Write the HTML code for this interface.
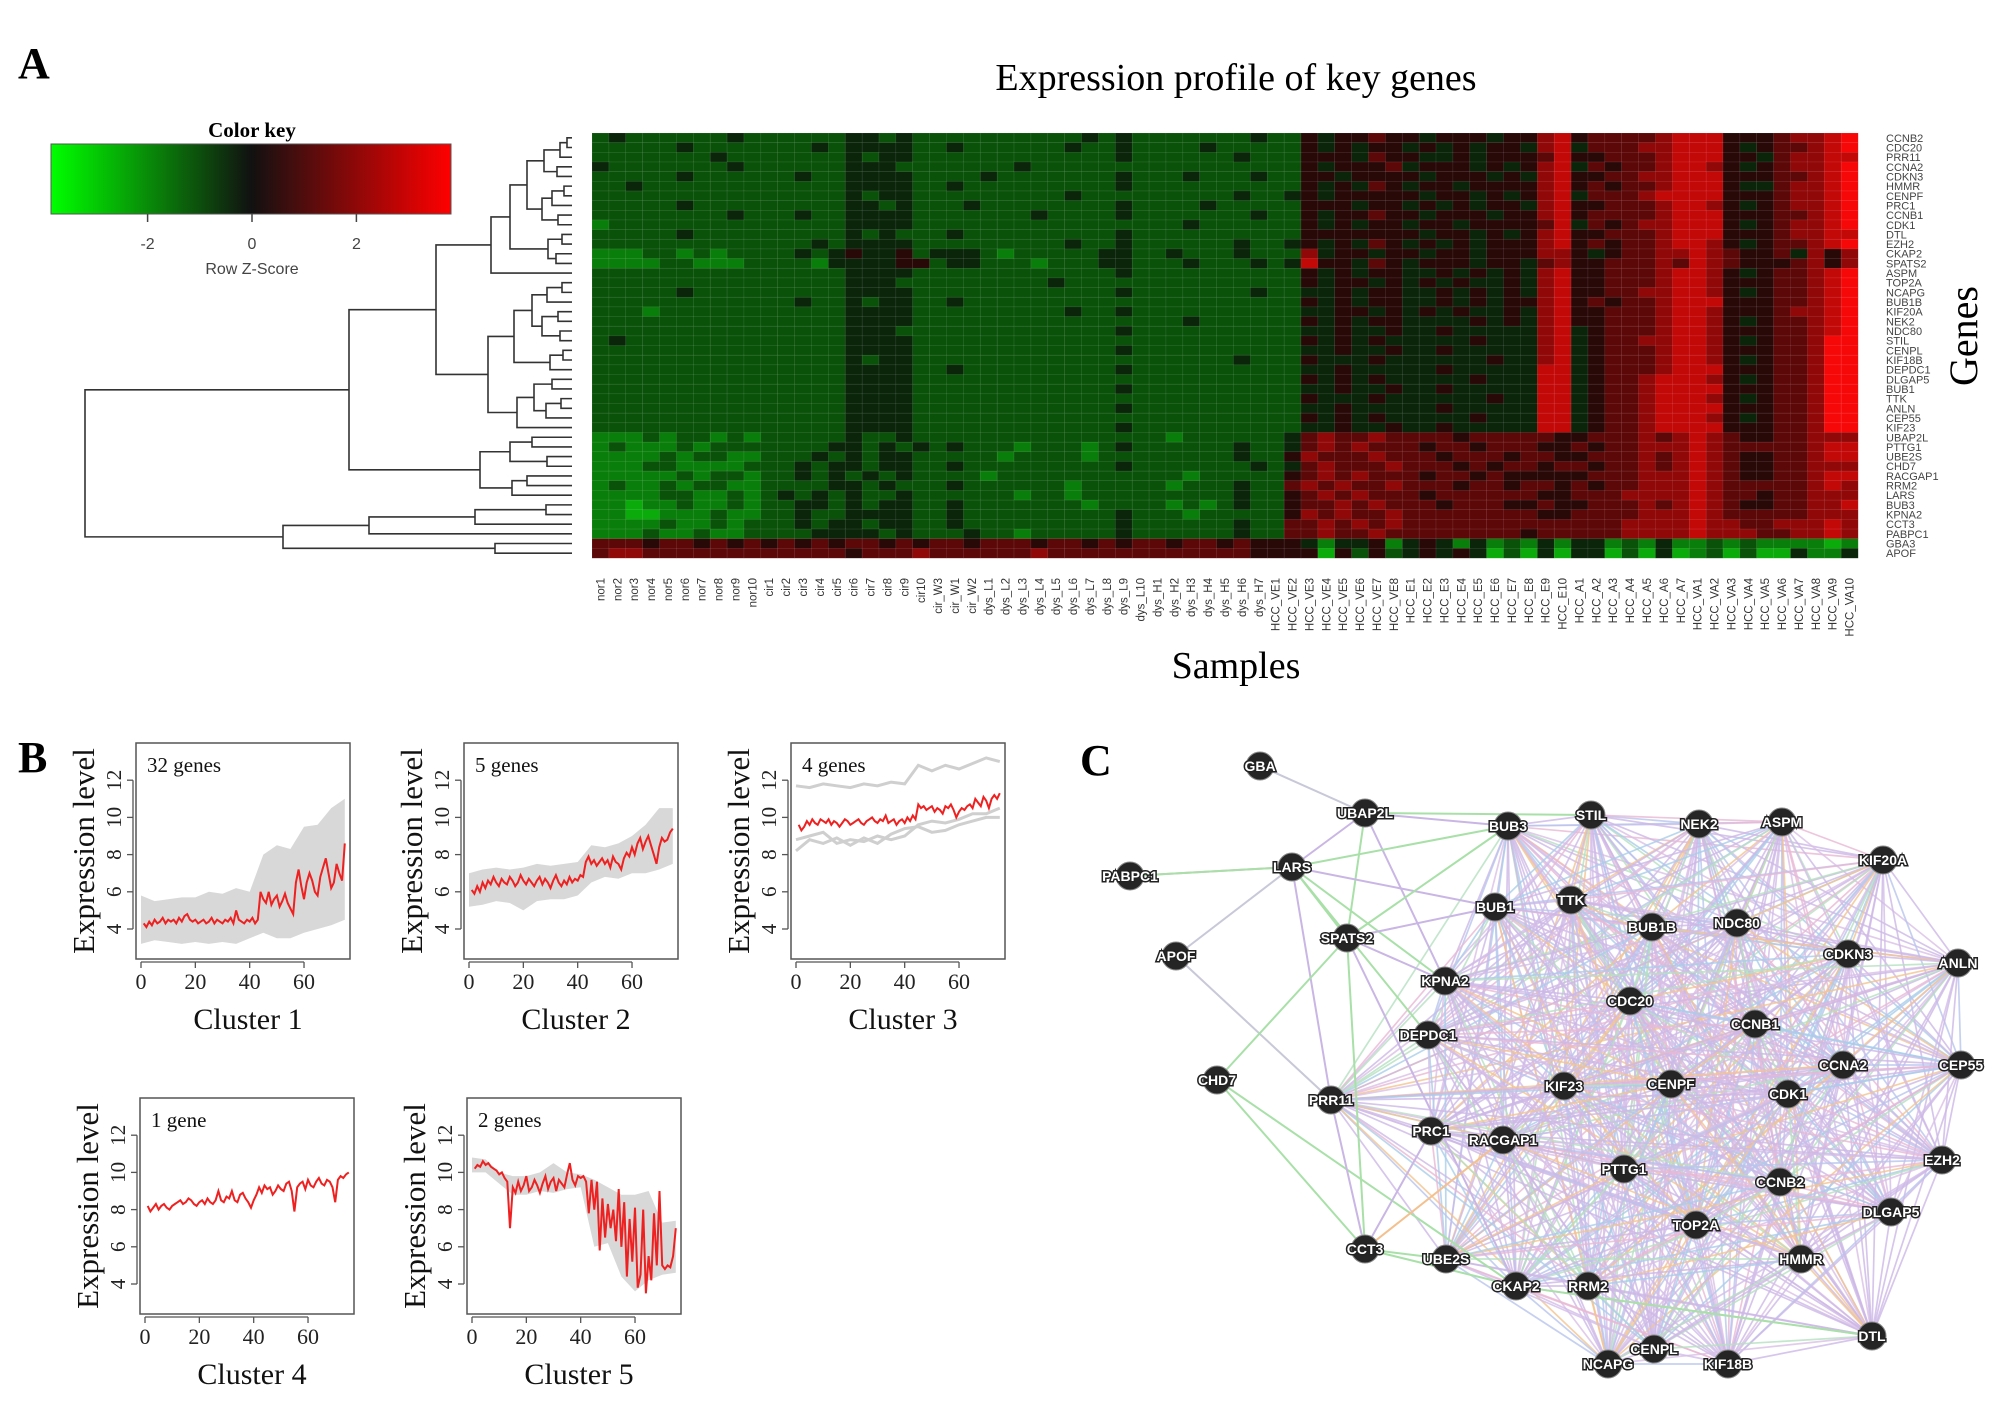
<!DOCTYPE html>
<html><head><meta charset="utf-8"><style>
html,body{margin:0;padding:0;background:#fff;}
svg{display:block;}
.serif{font-family:"Liberation Serif",serif;}
.sans{font-family:"Liberation Sans",sans-serif;}
</style></head><body>
<svg id="fig" width="2008" height="1406" viewBox="0 0 2008 1406" xmlns="http://www.w3.org/2000/svg">
<defs>
<linearGradient id="keygrad" x1="0" x2="1" y1="0" y2="0">
<stop offset="0" stop-color="#00ff00"/><stop offset="0.5" stop-color="#111"/><stop offset="1" stop-color="#ff0000"/>
</linearGradient>
</defs>
<text x="18" y="78" class="serif" font-size="44" font-weight="bold">A</text>
<text x="1236" y="90" class="serif" font-size="38" text-anchor="middle">Expression profile of key genes</text>
<text x="252" y="137" class="serif" font-size="21" font-weight="bold" text-anchor="middle">Color key</text>
<rect x="51" y="144" width="400" height="70" fill="url(#keygrad)" stroke="#555" stroke-width="1"/>
<text x="252" y="274" class="sans" font-size="16" fill="#444" text-anchor="middle">Row Z-Score</text>
<text x="1968" y="336" class="serif" font-size="40" text-anchor="middle" transform="rotate(-90 1968 336)" dominant-baseline="middle">Genes</text>
<text x="1236" y="678" class="serif" font-size="38" text-anchor="middle">Samples</text>
<text x="18" y="772" class="serif" font-size="44" font-weight="bold">B</text>
<text x="1080" y="775" class="serif" font-size="44" font-weight="bold">C</text>
<g id="heat"></g>
<g id="dendro"></g>
<g id="keyticks"></g>
<g id="clusters"></g>
<g id="net"></g>
</svg>
<script>
// ---------- Heatmap data ----------
var genes = ["CCNB2","CDC20","PRR11","CCNA2","CDKN3","HMMR","CENPF","PRC1","CCNB1","CDK1","DTL","EZH2","CKAP2","SPATS2","ASPM","TOP2A","NCAPG","BUB1B","KIF20A","NEK2","NDC80","STIL","CENPL","KIF18B","DEPDC1","DLGAP5","BUB1","TTK","ANLN","CEP55","KIF23","UBAP2L","PTTG1","UBE2S","CHD7","RACGAP1","RRM2","LARS","BUB3","KPNA2","CCT3","PABPC1","GBA3","APOF"];
var samples = ["nor1","nor2","nor3","nor4","nor5","nor6","nor7","nor8","nor9","nor10","cir1","cir2","cir3","cir4","cir5","cir6","cir7","cir8","cir9","cir10","cir_W3","cir_W1","cir_W2","dys_L1","dys_L2","dys_L3","dys_L4","dys_L5","dys_L6","dys_L7","dys_L8","dys_L9","dys_L10","dys_H1","dys_H2","dys_H3","dys_H4","dys_H5","dys_H6","dys_H7","HCC_VE1","HCC_VE2","HCC_VE3","HCC_VE4","HCC_VE5","HCC_VE6","HCC_VE7","HCC_VE8","HCC_E1","HCC_E2","HCC_E3","HCC_E4","HCC_E5","HCC_E6","HCC_E7","HCC_E8","HCC_E9","HCC_E10","HCC_A1","HCC_A2","HCC_A3","HCC_A4","HCC_A5","HCC_A6","HCC_A7","HCC_VA1","HCC_VA2","HCC_VA3","HCC_VA4","HCC_VA5","HCC_VA6","HCC_VA7","HCC_VA8","HCC_VA9","HCC_VA10"];
// z-score levels 0 (bright green, -3) .. 9 (bright red, +3)
var zrows = [
"3433333343 3333344343 333 3333334343 3333334 33545565 5455545578 5666678 8855567789",
"3333343333 3334344443 343 3333343343 3334333 33545455 4545455478 4666778 8854566789",
"3333333433 3333343443 333 3333333343 3333343 33555465 5445455568 5566678 8855467788",
"4333333343 3333344433 333 3343333333 3333333 33545556 4555454578 4656678 8754567789",
"3333343333 3343344443 333 4333333343 3343334 33554555 5455545478 5566778 8855566789",
"3343333333 3333344443 343 3333333343 3333333 33545465 4554555578 5656678 8854467789",
"3333333333 3333343443 333 3333343333 3333343 34545555 5455454578 4666788 8855567789",
"3333343333 3333344343 334 3333333343 3334333 33555455 4545455478 5566678 8754567789",
"3333333343 3343344443 333 3334333343 3333334 33545565 5455545578 5666678 8855566789",
"2333333333 3333344443 333 3333333333 3343333 33545455 4554555568 4656778 8854567789",
"3333343333 3333343433 343 3333333343 3333333 33555555 5455454578 5566678 8855567788",
"3333333333 3334344443 333 3333343343 3333343 34545465 4545455578 5656678 8754566789",
"2223323233 3343454453 444 3233333443 3433343 33745545 5455455577 5456677 8765564757",
"2222332223 3332444455 344 3332333443 3343334 34855465 4555455467 5566676 8765556757",
"3333333333 3333344443 333 3333333343 3333333 33545455 4454545478 5566678 8754566789",
"3333333333 3333344433 333 3333433333 3333333 33545545 4545445478 5566678 8755566789",
"3333343333 3333344443 333 3333333343 3333334 33445455 4454545478 5566778 8754566789",
"3333333333 3343343443 343 3333333333 3333333 33545455 4454545578 5656678 8855566789",
"3332333333 3333344443 333 3333343343 3333333 33445545 4545445478 5566678 8755567789",
"3333333333 3333344443 333 3333333333 3343333 33545455 4444545478 5566678 8754566789",
"3333333333 3333344433 333 3333333343 3333333 33445445 4454444478 4566678 8755566789",
"3433333333 3333344443 333 3333333333 3333333 33545454 4444544478 4566778 8754566799",
"3333333333 3333344443 333 3333333343 3333333 33445445 4454444478 4566678 8755566799",
"3333333333 3333343443 333 3333333333 3333343 33544454 4444454478 4566678 8754566799",
"3333333333 3333344443 343 3333333343 3333333 33445444 4454444488 4566678 8855566799",
"3333333333 3333344443 333 3333333333 3333333 33545454 4444544488 4566788 8754566799",
"3333333333 3333344443 333 3333333343 3333333 33445445 4454444488 4566788 8855566799",
"3333333333 3333344443 333 3333333333 3333333 33544454 4444454488 4566788 8754566799",
"3333333333 3333344443 333 3333333343 3333333 33445444 4454444488 4566788 8855566799",
"3333333333 3333344443 333 3333333333 3333333 33545454 4444544488 4566788 8754566799",
"3333333333 3333344443 333 3333333343 3333333 33445445 4454444488 4566788 8855566799",
"2223233232 3333343343 333 3333333333 3233333 34676676 6665666665 5666767 8765566777",
"2322232333 3333443434 343 3323332343 3333343 34676766 6566566655 6566777 8766666788",
"2222323322 3334343443 333 3233332333 3333343 35766676 6656665665 5666767 8765566788",
"2223322223 3343443443 343 3333333343 3333334 34676667 6665656656 6566767 8765566777",
"2222232332 3343434343 333 2333333333 3323333 35676766 6566565555 5666777 8765566788",
"2322323322 3333443433 343 3333323333 3233343 36767667 6665665665 6566777 8766666787",
"2222332232 3434343343 333 3323323333 3333343 35676766 6566666655 6667777 8766566777",
"2212232232 3344343443 343 3333332333 3232343 35667676 6656665565 5666767 8765566778",
"2211222322 3343344443 343 3333333343 3323333 35767667 6666666655 6666777 8766666777",
"2222322323 3343443443 343 3333333343 3333343 36676767 6666666666 6667777 8776677787",
"2223223223 3334444343 334 3323333343 3333343 36676676 6666666566 6667777 8777667787",
"6665665656 5656566565 665 6665665656 6566565 55424452 4542423242 4423242 2323222212",
"6776666666 6666656667 666 6667666666 6666665 55515353 4545413141 4413141 2313114224"
];
var keyTicks = [-2, 0, 2];
// dendrogram: [height, left, right], leaves are row indices
var dendroTree = [487,
  [223,
    [136,
      [81,[62,[45,[28,[12,[5,0,1],2],[15,3,4]],[30,[20,[8,5,6],7],[14,8,9]]],[24,[10,10,11],[16,12,13]]],14],
      [84,[58,[40,[25,[10,15,16],17],[30,[14,18,19],[12,20,21]]],[22,[9,22,23],24]],[55,[38,[20,25,26],[26,[11,27,28],29]],30]]
    ],
    [92,[62,[40,31,32],[25,33,34]],[60,[45,35,36],37]]
  ],
  [289,[203,[97,[26,38,39],40],41],[77,42,43]]
];

// ---------- Cluster line data ----------
var clusterTitles = ["Cluster 1","Cluster 2","Cluster 3","Cluster 4","Cluster 5"];
var clusterCounts = ["32 genes","5 genes","4 genes","1 gene","2 genes"];
var xTicks = [0,20,40,60];
var yTicks = [4,6,8,10,12];
var c1Mean = [4.3,4.1,4.4,4.2,4.5,4.3,4.4,4.6,4.3,4.5,4.4,4.5,4.3,4.6,4.4,4.7,4.8,4.5,4.4,4.5,4.3,4.4,4.5,4.3,4.4,4.6,4.3,4.5,4.4,4.3,4.5,4.4,4.6,4.3,5.0,4.5,4.4,4.3,4.5,4.4,4.6,4.3,4.5,6.0,5.6,5.4,6.0,5.3,5.6,5.8,5.2,5.5,5.9,5.4,5.1,4.8,6.5,7.2,6.3,5.6,6.5,7.0,6.6,6.0,5.8,6.8,7.3,7.8,7.0,6.2,6.5,7.5,7.0,6.6,8.6];
var c2Mean = [6.1,5.9,6.3,6.0,6.5,6.2,6.6,6.4,6.8,6.5,6.3,6.7,6.5,6.4,6.8,6.6,6.3,6.5,6.9,6.6,6.4,6.7,6.5,6.3,6.6,6.8,6.4,6.7,6.5,6.2,6.6,6.9,6.5,6.3,6.6,6.4,6.8,6.5,6.7,6.6,6.9,6.8,7.6,7.9,7.5,7.7,7.4,7.6,7.8,7.5,7.7,7.3,7.9,7.6,7.5,7.2,7.8,8.1,7.9,8.4,8.0,8.6,8.9,8.3,8.7,9.0,8.5,8.0,7.5,8.4,8.9,8.7,8.8,9.2,9.4];
var c3Mean = [9.6,9.3,9.5,9.8,9.6,9.9,9.7,9.6,9.9,9.8,9.7,9.9,9.6,9.8,9.7,9.5,9.7,9.9,9.8,9.6,9.7,9.8,9.9,9.7,9.6,9.8,9.9,10.0,9.8,9.7,9.9,9.8,10.1,9.7,9.8,9.9,9.6,9.8,9.9,9.7,10.0,9.8,10.1,9.9,10.7,10.5,10.6,10.4,10.5,10.6,10.3,10.5,10.4,10.2,10.6,10.5,10.7,10.4,10.0,10.3,10.5,10.4,10.6,10.7,10.5,11.0,10.8,10.6,11.1,10.9,10.5,11.0,11.2,11.0,11.3];
var c4Mean = [8.2,7.9,8.1,8.3,8.0,8.2,8.3,8.1,8.0,8.2,8.3,8.4,8.5,8.3,8.4,8.6,8.5,8.3,8.2,8.4,8.5,8.3,8.6,8.4,8.3,8.5,9.0,8.5,8.4,8.7,8.6,9.0,8.5,8.4,8.8,8.9,8.6,8.4,8.1,8.5,8.8,9.2,8.9,9.3,9.1,9.2,8.8,9.0,9.3,9.1,9.0,9.4,9.5,9.0,7.9,9.2,9.4,9.5,9.1,9.6,9.3,9.2,9.5,9.7,9.4,9.3,9.6,9.5,9.2,8.4,9.6,9.8,9.7,9.9,10.0];
var c5Mean = [10.2,10.4,10.3,10.6,10.4,10.5,10.3,10.2,10.1,9.9,10.0,9.7,9.5,7.0,9.2,8.9,9.5,9.0,9.3,9.8,9.0,9.2,9.6,9.3,8.9,9.4,9.8,9.1,9.5,9.7,9.0,9.6,9.4,9.2,9.9,10.5,9.6,9.3,9.8,9.7,9.8,9.5,7.8,9.6,8.0,9.5,5.8,8.6,6.5,8.3,7.0,8.0,6.3,9.1,6.0,8.4,4.4,7.5,5.2,8.1,3.8,4.5,8.0,3.5,5.5,4.2,7.8,5.0,9.0,5.0,4.8,5.0,4.9,5.5,7.0];
// grey envelopes sampled every 5 samples (0..75)
var c1Low  = [3.2,3.4,3.3,3.2,3.3,3.2,3.3,3.2,3.5,3.8,3.5,3.5,3.8,4.0,4.2,4.5];
var c1High = [5.8,5.5,5.6,5.7,5.7,6.0,5.9,6.2,6.0,8.0,8.5,8.3,9.5,9.6,10.5,11.0];
var c2Low  = [5.2,5.3,5.5,5.4,5.0,5.5,5.6,5.6,5.8,6.5,6.8,6.7,7.0,7.0,7.2,7.5];
var c2High = [7.0,7.2,7.3,7.2,7.3,7.5,7.4,7.5,7.6,8.5,8.4,8.6,9.0,9.6,10.5,10.5];
var c3Grey1 = [11.7,11.6,11.8,11.7,11.6,11.8,11.7,11.9,11.8,12.8,12.5,12.8,12.6,12.9,13.2,13.0];
var c3Grey2 = [8.2,8.8,8.6,8.9,8.5,8.9,8.6,9.1,9.4,9.5,9.2,9.3,9.6,9.8,10.0,10.0];
var c3Grey3 = [8.8,9.0,9.2,8.6,8.8,8.7,9.0,8.8,9.0,9.6,9.8,9.7,9.9,10.2,10.2,10.5];
var c5Low  = [10.0,10.0,9.4,8.8,8.8,9.0,8.9,9.1,9.2,6.0,6.2,4.4,3.6,4.2,4.5,4.6];
var c5High = [10.8,10.7,10.0,9.8,9.8,10.0,10.5,10.0,9.9,9.6,9.2,8.8,8.8,9.0,7.3,7.4];

// ---------- Network data ----------
var netNames = ["GBA","UBAP2L","BUB3","STIL","NEK2","ASPM","KIF20A","PABPC1","LARS","BUB1","TTK","BUB1B","NDC80","SPATS2","APOF","CDKN3","ANLN","KPNA2","CDC20","CCNB1","DEPDC1","CHD7","CCNA2","CEP55","KIF23","CENPF","CDK1","PRR11","PRC1","RACGAP1","PTTG1","EZH2","CCNB2","DLGAP5","TOP2A","CCT3","UBE2S","HMMR","CKAP2","RRM2","DTL","CENPL","NCAPG","KIF18B"];
var netX = [1260,1365,1508,1591,1699,1782,1883,1130,1292,1495,1571,1652,1737,1347,1176,1848,1958,1445,1630,1755,1428,1217,1843,1961,1564,1671,1788,1331,1431,1503,1624,1942,1780,1891,1696,1365,1446,1801,1516,1588,1872,1654,1608,1728];
var netY = [766,813,826,815,824,822,860,876,867,907,900,927,923,938,956,954,963,981,1001,1024,1035,1080,1065,1065,1086,1084,1094,1100,1131,1140,1169,1160,1182,1212,1225,1249,1259,1259,1286,1286,1336,1349,1364,1364];
var coreGenes = ["BUB3","STIL","NEK2","ASPM","KIF20A","BUB1","TTK","BUB1B","NDC80","CDKN3","ANLN","KPNA2","CDC20","CCNB1","DEPDC1","CCNA2","CEP55","KIF23","CENPF","CDK1","PRR11","PRC1","RACGAP1","PTTG1","EZH2","CCNB2","DLGAP5","TOP2A","UBE2S","HMMR","CKAP2","RRM2","DTL","CENPL","NCAPG","KIF18B"];
var extraEdgesA = ["GBA","UBAP2L","UBAP2L","UBAP2L","UBAP2L","UBAP2L","PABPC1","PABPC1","LARS","LARS","LARS","LARS","LARS","LARS","APOF","CHD7","CHD7","CHD7","SPATS2","SPATS2","SPATS2","SPATS2","CCT3","CCT3","CCT3","CCT3","CKAP2","LARS","SPATS2","CCT3"];
var extraEdgesB = ["UBAP2L","STIL","BUB3","LARS","SPATS2","KPNA2","LARS","LARS","BUB3","BUB1","SPATS2","APOF","PRR11","DEPDC1","PRR11","SPATS2","CCT3","CKAP2","BUB3","CCT3","CKAP2","KPNA2","UBE2S","CKAP2","RACGAP1","PRR11","DTL","KPNA2","BUB1","PRC1"];
var extraEdgeColor = ["#c8c8d8","#a8e0a8","#c9b6e4","#c9b6e4","#a8e0a8","#c9b6e4","#e6b0cc","#a8e0a8","#a8e0a8","#c9b6e4","#a8e0a8","#c8c8d8","#c9b6e4","#a8e0a8","#c8c8d8","#a8e0a8","#a8e0a8","#a8e0a8","#a8e0a8","#a8e0a8","#c9b6e4","#c9b6e4","#a8e0a8","#a8e0a8","#f3c08e","#c9b6e4","#a8e0a8","#a8e0a8","#c9b6e4","#c9b6e4"];
var edgePalette = ["#cdb8e6","#d2bde8","#b8c4ec","#e9b8d4","#cdb8e6","#a9cdea","#f3c490","#cdb8e6","#b5e0c0","#d9bfe6","#cdb8e6"];

// ---------- drawing ----------
var NS = "http://www.w3.org/2000/svg";
function mk(tag, attrs, parent){
  var e = document.createElementNS(NS, tag);
  for (var k in attrs) e.setAttribute(k, attrs[k]);
  if (parent) parent.appendChild(e);
  return e;
}
var HX0 = 592, HY0 = 133, HX1 = 1858, HY1 = 558;
var cw = (HX1 - HX0) / samples.length, rh = (HY1 - HY0) / genes.length;
function colX(c){ return HX0 + c * cw; }
function rowY(r){ return HY0 + r * rh; }
function zColor(d){
  var t = (d - 4.5) / 4.5;
  if (t < 0) { var g = Math.round(-t * 200 + 15); return "rgb(10," + g + ",10)"; }
  var r = Math.round(t * 232 + 15); return "rgb(" + r + ",8,8)";
}
var heat = document.getElementById("heat");
for (var r = 0; r < genes.length; r++) {
  var s = zrows[r].replace(/ /g, "");
  for (var c = 0; c < samples.length; c++) {
    var ch = s.charAt(Math.min(c, s.length - 1));
    var cell = mk("rect", {x: colX(c).toFixed(2), y: rowY(r).toFixed(2), width: (cw + 0.2).toFixed(2), height: (rh + 0.2).toFixed(2), fill: zColor(+ch), stroke: "rgba(255,255,255,0.13)", "stroke-width": 0.6}, heat);
    
    
  }
}
for (var r = 0; r < genes.length; r++) {
  var gl = mk("text", {x: 1886, y: (rowY(r) + rh * 0.5 + 4).toFixed(1), "font-size": 11, fill: "#444", "class": "sans"}, heat);
  gl.textContent = genes[r];
  
  
}
for (var c = 0; c < samples.length; c++) {
  var cx = colX(c) + cw * 0.5 + 4;
  var sl = mk("text", {x: cx.toFixed(1), y: 578, "font-size": 11.5, fill: "#333", "class": "sans", "text-anchor": "end", transform: "rotate(-90 " + cx.toFixed(1) + " 578)"}, heat);
  sl.textContent = samples[c];
  
  
}
var kt = document.getElementById("keyticks");
function keyX(v){ return 252 + v * 52.2; }
keyTicks.forEach(function(v){
  var tl = mk("line", {x1: keyX(v), x2: keyX(v), y1: 214, y2: 222, stroke: "#444", "stroke-width": 1.5}, kt);
  
  
  var tt = mk("text", {x: keyX(v), y: 249, "font-size": 16, fill: "#444", "text-anchor": "middle", "class": "sans"}, kt);
  tt.textContent = v;
  
  
});
var dg = document.getElementById("dendro");
var LEAFX = 572;
function drawNode(n){
  if (typeof n === "number") return {x: LEAFX, y: rowY(n) + rh / 2};
  var a = drawNode(n[1]), b = drawNode(n[2]);
  var x = LEAFX - n[0];
  var p = mk("path", {d: "M" + a.x + "," + a.y + "H" + x + "V" + b.y + "H" + b.x, fill: "none", stroke: "#333", "stroke-width": 1.6}, dg);
  
  
  return {x: x, y: (a.y + b.y) / 2};
}
var rootPos = drawNode(dendroTree);

var cg = document.getElementById("clusters");
var panels = [
  {bx: 136, by: 743, mean: c1Mean, bands: [[c1Low, c1High]], lines: []},
  {bx: 464, by: 743, mean: c2Mean, bands: [[c2Low, c2High]], lines: []},
  {bx: 791, by: 743, mean: c3Mean, bands: [], lines: [c3Grey1, c3Grey2, c3Grey3]},
  {bx: 140, by: 1098, mean: c4Mean, bands: [], lines: []},
  {bx: 467, by: 1098, mean: c5Mean, bands: [[c5Low, c5High]], lines: []}
];
var BW = 214, BH = 216;
panels.forEach(function(p, i){
  var g = mk("g", {}, cg);
  
  
  function X(v){ return p.bx + 5 + v * 2.717; }
  function Y(v){ return p.by + 186 - (v - 4) * 18.6; }
  var clip = "clip" + i;
  var cp = mk("clipPath", {id: clip}, g);
  mk("rect", {x: p.bx, y: p.by, width: BW, height: BH}, cp);
  p.bands.forEach(function(b){
    var pts = [];
    for (var k = 0; k < b[0].length; k++) pts.push(X(k * 5).toFixed(1) + "," + Y(b[1][k]).toFixed(1));
    for (var k = b[0].length - 1; k >= 0; k--) pts.push(X(k * 5).toFixed(1) + "," + Y(b[0][k]).toFixed(1));
    var poly = mk("polygon", {points: pts.join(" "), fill: "#d8d8d8", "clip-path": "url(#" + clip + ")"}, g);
    
    
  });
  p.lines.forEach(function(l){
    var pts = l.map(function(v, k){ return X(k * 5).toFixed(1) + "," + Y(v).toFixed(1); });
    var pl = mk("polyline", {points: pts.join(" "), fill: "none", stroke: "#cfcfcf", "stroke-width": 3, "clip-path": "url(#" + clip + ")"}, g);
    
    
  });
  var mpts = p.mean.map(function(v, k){ return X(k + 1).toFixed(1) + "," + Y(v).toFixed(1); });
  var ml = mk("polyline", {points: mpts.join(" "), fill: "none", stroke: "#ee2020", "stroke-width": 2, "clip-path": "url(#" + clip + ")"}, g);
  
  
  var box = mk("rect", {x: p.bx, y: p.by, width: BW, height: BH, fill: "none", stroke: "#555", "stroke-width": 1.5}, g);
  
  
  var ax = mk("line", {x1: X(0), x2: X(60), y1: p.by + BH + 3, y2: p.by + BH + 3, stroke: "#555", "stroke-width": 1.3}, g);
  
  
  xTicks.forEach(function(v){
    var t = mk("line", {x1: X(v), x2: X(v), y1: p.by + BH + 3, y2: p.by + BH + 9, stroke: "#555", "stroke-width": 1.3}, g);
    
    
    var tx = mk("text", {x: X(v), y: p.by + BH + 30, "font-size": 22, "text-anchor": "middle", fill: "#222", "class": "serif"}, g);
    tx.textContent = v;
    
    
  });
  var ay = mk("line", {x1: p.bx - 3, x2: p.bx - 3, y1: Y(4), y2: Y(12), stroke: "#555", "stroke-width": 1.3}, g);
  
  
  yTicks.forEach(function(v){
    var t = mk("line", {x1: p.bx - 9, x2: p.bx - 3, y1: Y(v), y2: Y(v), stroke: "#555", "stroke-width": 1.3}, g);
    
    
    var lx = p.bx - 15;
    var ty = mk("text", {x: lx, y: Y(v), "font-size": 21, "text-anchor": "middle", fill: "#222", "class": "serif", transform: "rotate(-90 " + lx + " " + Y(v) + ")"}, g);
    ty.textContent = v;
    
    
  });
  var yl = p.bx - 42, ymid = p.by + 108;
  var yt = mk("text", {x: yl, y: ymid, "font-size": 31, "text-anchor": "middle", fill: "#111", "class": "serif", transform: "rotate(-90 " + yl + " " + ymid + ")"}, g);
  yt.textContent = "Expression level";
  
  
  var ct = mk("text", {x: p.bx + 112, y: p.by + BH + 70, "font-size": 30, "text-anchor": "middle", fill: "#111", "class": "serif"}, g);
  ct.textContent = clusterTitles[i];
  
  
  var gc = mk("text", {x: p.bx + 11, y: p.by + 29, "font-size": 21, fill: "#111", "class": "serif"}, g);
  gc.textContent = clusterCounts[i];
  
  
});

var ng = document.getElementById("net");
var eg = mk("g", {}, ng);


function idx(n){ return netNames.indexOf(n); }
var ec = 0;
for (var a = 0; a < coreGenes.length; a++) {
  for (var b = a + 1; b < coreGenes.length; b++) {
    var i1 = idx(coreGenes[a]), i2 = idx(coreGenes[b]);
    var ln = mk("line", {x1: netX[i1], y1: netY[i1], x2: netX[i2], y2: netY[i2], stroke: edgePalette[ec % edgePalette.length], "stroke-width": 1.7, "stroke-opacity": 0.8}, eg);
    
    
    ec++;
  }
}
for (var e = 0; e < extraEdgesA.length; e++) {
  var i1 = idx(extraEdgesA[e]), i2 = idx(extraEdgesB[e]);
  var ln2 = mk("line", {x1: netX[i1], y1: netY[i1], x2: netX[i2], y2: netY[i2], stroke: extraEdgeColor[e], "stroke-width": 2}, eg);
  
  
}
for (var n = 0; n < netNames.length; n++) {
  var node = mk("g", {}, ng);
  
  
  mk("circle", {cx: netX[n], cy: netY[n], r: 14, fill: "#252525", stroke: "#888", "stroke-width": 1}, node);
  var lt = mk("text", {x: netX[n], y: netY[n] + 5, "font-size": 14, "font-weight": "bold", "text-anchor": "middle", fill: "#fff", stroke: "#222", "stroke-width": 3, "paint-order": "stroke", "class": "sans"}, node);
  lt.textContent = netNames[n];
}
</script>
</body></html>
